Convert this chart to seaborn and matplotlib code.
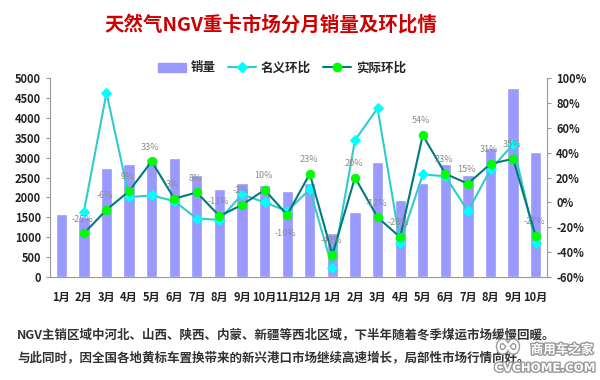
import numpy as np
import pandas as pd
import matplotlib
matplotlib.use("Agg")
import matplotlib.pyplot as plt
import matplotlib.patheffects as pe
from matplotlib.lines import Line2D
from matplotlib.patches import Patch
import seaborn as sns

# data (2013-01 .. 2014-10)
months = ['1月', '2月', '3月', '4月', '5月', '6月', '7月', '8月', '9月', '10月', '11月', '12月',
          '1月', '2月', '3月', '4月', '5月', '6月', '7月', '8月', '9月', '10月']
sales = [1580, 1500, 2750, 2830, 2980, 2980, 2575, 2200, 2350, 2320, 2150, 2350,
         1100, 1640, 2890, 1940, 2370, 2830, 2575, 3230, 4740, 3140]
nominal_mom = [None, -7.5, 88, 4.3, 5.6, 1, -13, -14, 6.4, 0, -7, 10.5,
               -52.5, 50, 75.6, -32.4, 22.5, 21, -7, 26.5, 46.7, -33]
real_mom = [None, -25, -6, 9, 33, 3, 8, -11, -2, 10, -10, 23,
            -42, 20, -12, -28, 54, 23, 15, 31, 35, -27]

sns.set_style("white")
plt.rcParams['font.family'] = ['Noto Sans CJK SC', 'DejaVu Sans']
plt.rcParams['font.weight'] = 'bold'

df = pd.DataFrame({'idx': range(len(months)), 'month': months, 'sales': sales,
                   'nominal': nominal_mom, 'real': real_mom})

fig = plt.figure(figsize=(6, 3.8), dpi=100)
ax = fig.add_axes([50/600, 1-277/380, 497/600, 199/380])

bar_c = '#9999ff'
cyan_line = '#33cccc'
cyan_mark = '#00ffff'
green_line = '#007b7b'
green_mark = '#00ff00'

sns.barplot(data=df, x='idx', y='sales', color=bar_c, width=0.5, saturation=1, ax=ax)
ax.set_xlim(-0.5, len(months)-0.5)
ax.set_ylim(0, 5000)
ax.set_yticks(np.arange(0, 5001, 500))
ax.set_xlabel('')
ax.set_ylabel('')
ax.set_xticks(range(len(months)))
ax.set_xticklabels(months, fontsize=8, fontweight='bold', color='#222222')
ax.set_xticks(np.arange(-0.5, len(months), 1), minor=True)
ax.tick_params(axis='x', which='major', length=0, pad=10)
ax.tick_params(axis='x', which='minor', length=4, color='#999999', direction='out')
ax.tick_params(axis='y', length=3, color='#999999', labelsize=8, direction='out', labelcolor='#222222')
for lab in ax.get_yticklabels():
    lab.set_fontweight('bold')
for s in ['left', 'bottom']:
    ax.spines[s].set_color('#999999')
ax.spines['top'].set_visible(False)
ax.spines['right'].set_visible(False)

ax2 = ax.twinx()
d = df.dropna()
sns.lineplot(data=d, x='idx', y='nominal', color=cyan_line, lw=1.5, marker='D', markersize=5,
             markerfacecolor=cyan_mark, markeredgecolor=cyan_mark, ax=ax2)
sns.lineplot(data=d, x='idx', y='real', color=green_line, lw=1.5, marker='o', markersize=6,
             markerfacecolor=green_mark, markeredgecolor=green_mark, ax=ax2)
ax2.set_ylim(-60, 100)
ax2.set_yticks(np.arange(-60, 101, 20))
ax2.set_yticklabels([f'{v}%' for v in range(-60, 101, 20)], fontsize=8, fontweight='bold', color='#222222')
ax2.set_ylabel('')
ax2.set_xlim(-0.5, len(months)-0.5)
ax2.tick_params(axis='y', length=3, color='#999999', direction='out')
ax2.spines['right'].set_color('#999999')
for s in ['top', 'left', 'bottom']:
    ax2.spines[s].set_visible(False)

# data labels for the real m-o-m series
for i, v in zip(d['idx'], d['real']):
    off = -17 if i == 10 else 7
    ax2.annotate(f'{int(v)}%', (i, v), xytext=(-1, off), textcoords='offset points',
                 ha='center', va='bottom', fontsize=6.5, color='#8a8a8a', fontweight='normal')

fig.text(271/600, 1-25/380, '天然气NGV重卡市场分月销量及环比情', ha='center', va='center',
         fontsize=14, fontweight='bold', color='#cc0000')

handles = [Patch(color=bar_c),
           Line2D([], [], color=cyan_line, lw=1.5, marker='D', markersize=5,
                  markerfacecolor=cyan_mark, markeredgecolor=cyan_mark),
           Line2D([], [], color=green_line, lw=1.5, marker='o', markersize=6,
                  markerfacecolor=green_mark, markeredgecolor=green_mark)]
fig.legend(handles, ['销量', '名义环比', '实际环比'], loc='center', bbox_to_anchor=(282/600, 1-68/380),
           ncol=3, frameon=False, fontsize=9, handlelength=2.2, columnspacing=1.0, handletextpad=0.4)

fig.text(17/600, 1-335/380, 'NGV主销区域中河北、山西、陕西、内蒙、新疆等西北区域，下半年随着冬季煤运市场缓慢回暖。',
         ha='left', va='center', fontsize=9, fontweight='bold', color='#333333')
fig.text(17/600, 1-358/380, '与此同时，因全国各地黄标车置换带来的新兴港口市场继续高速增长，局部性市场行情向好。',
         ha='left', va='center', fontsize=9, fontweight='bold', color='#333333')

# watermark (sits over the text, as in the source image)
wm = [pe.withStroke(linewidth=2, foreground='#9a9a9a')]
fig.text(508/600, 1-347/380, '∞', ha='center', va='center', fontsize=24, color='white',
         family=['DejaVu Sans'], path_effects=wm)
fig.text(562/600, 1-350/380, '商用车之家', ha='center', va='center', fontsize=9, color='white',
         path_effects=wm)
fig.text(545/600, 1-368/380, 'CVCHOME.COM', ha='center', va='center', fontsize=8.5, color='white',
         family=['DejaVu Sans'], path_effects=wm)

fig.savefig('out.png', dpi=100)
